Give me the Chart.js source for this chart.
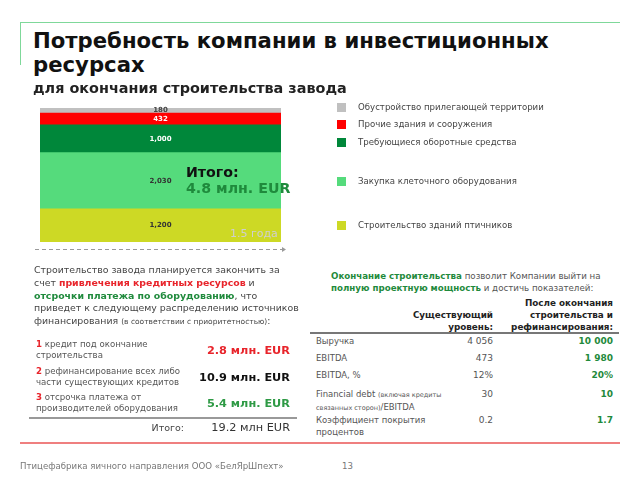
<!DOCTYPE html>
<html>
<head>
<meta charset="utf-8">
<script src="https://cdn.jsdelivr.net/npm/chart.js@4"></script>
<style>
  body { margin: 0; background: #fff; }
  #slide { position: relative; width: 640px; height: 480px; overflow: hidden; font-family: "DejaVu Sans", Verdana, sans-serif; color: #555; }
  #slide div { position: absolute; white-space: nowrap; }
  .red { color: #e8242b; font-weight: bold; }
  .grn { color: #1f8a3c; font-weight: bold; }
  canvas { position: absolute; left: 0; top: 95px; }
</style>
</head>
<body>
<div id="slide">
  <canvas id="investChart" width="320" height="170"></canvas>
</div>
<script>
// stacked bar, bottom to top
const categories = ['Итого'];
const seriesNames = [
  'Строительство зданий птичников',
  'Закупка клеточного оборудования',
  'Требующиеся оборотные средства',
  'Прочие здания и сооружения',
  'Обустройство прилегающей территории'
];
const seriesValues = [1200, 2030, 1000, 432, 180];
const valueLabels = ['1,200', '2,030', '1,000', '432', '180'];
const seriesColors = ['#cdd925', '#55db7c', '#00873a', '#ff0000', '#c0c0c0'];
const labelColors = ['#333', '#333', '#fff', '#fff', '#444'];

// financing sources
const sourceNums = ['1', '2', '3'];
const sourceNames = [
  ['кредит под окончание', 'строительства'],
  ['рефинансирование всех либо', 'части  существующих кредитов'],
  ['отсрочка платежа от', 'производителей оборудования']
];
const sourceAmounts = ['2.8 млн. EUR', '10.9 млн. EUR', '5.4 млн. EUR'];
const sourceTotal = '19.2 млн EUR';

// indicators
const indicatorNames = ['Выручка', 'EBITDA', 'EBITDA, %', 'Financial debt', 'Коэффициент покрытия'];
const currentLevel = ['4 056', '473', '12%', '30', '0.2'];
const afterLevel = ['10 000', '1 980', '20%', '10', '1.7'];

const slide = document.getElementById('slide');
function put(html, css) {
  const d = document.createElement('div');
  d.innerHTML = html;
  Object.assign(d.style, css);
  slide.appendChild(d);
  return d;
}
function line(x, y, w, h, color) {
  put('', { left: x + 'px', top: y + 'px', width: w + 'px', height: h + 'px', background: color });
}

// frame
line(20, 22, 600, 1, '#7fd89a');
line(20, 22, 1, 43, '#7fd89a');
line(20, 442, 600, 2, '#ef7f7f');

// title
put('Потребность компании в инвестиционных<br>ресурсах', { left: '33px', top: '29px', font: 'bold 21.2px/24px "DejaVu Sans"', color: '#111' });
put('для окончания строительства завода', { left: '33px', top: '79px', font: 'bold 14.4px/18px "DejaVu Sans"', color: '#222' });

// overlay text on chart
put('Итого:', { left: '186px', top: '163px', font: 'bold 14.2px/18px "DejaVu Sans"', color: '#111' });
put('4.8 млн. EUR', { left: '186px', top: '179px', font: 'bold 14.2px/18px "DejaVu Sans"', color: '#1f8a3c' });
put('1.5 года', { left: '230px', top: '227px', font: '11px/14px "DejaVu Sans"', color: '#cfcfcf' });

// legend
const legendY = [226, 182, 143, 125, 108];
seriesNames.forEach((n, i) => {
  line(337, legendY[i] - 5, 9, 9, seriesColors[i]);
  put(n, { left: '358px', top: (legendY[i] - 7) + 'px', font: '8.6px/13px "DejaVu Sans"', color: '#444' });
});

// left text
put('Строительство завода планируется закончить за<br>' +
    'счет <span class="red">привлечения кредитных ресурсов</span> и<br>' +
    '<span class="grn">отсрочки платежа по оборудованию</span>, что<br>' +
    'приведет к следующему распределению источников<br>' +
    'финансирования <span style="font-size:7.5px">(в соответствии с приоритетностью)</span>:',
    { left: '34px', top: '264px', font: '9.4px/12.8px "DejaVu Sans"', color: '#444' });

const srcY = [345, 372, 398];
const srcColors = ['#e8242b', '#111', '#2e9a45'];
sourceNames.forEach((n, i) => {
  put('<b style="color:#e8242b">' + sourceNums[i] + '</b> ' + n[0] + '<br>' + n[1],
      { left: '36px', top: (srcY[i] - 6) + 'px', font: '8.6px/10.5px "DejaVu Sans"', color: '#555' });
  put(sourceAmounts[i], { right: (640 - 290) + 'px', top: (srcY[i] - 2) + 'px', font: 'bold 11.3px/15px "DejaVu Sans"', color: srcColors[i] });
});
line(29, 417, 268, 2, '#999');
put('Итого:', { right: (640 - 184) + 'px', top: '421px', font: '9.5px/13px "DejaVu Sans"', color: '#444' });
put(sourceTotal, { right: (640 - 290) + 'px', top: '420px', font: '11.3px/15px "DejaVu Sans"', color: '#333' });

// right text
put('<span class="grn">Окончание строительства</span> позволит Компании выйти на<br>' +
    '<span class="grn">полную проектную мощность</span> и достичь показателей:',
    { left: '331px', top: '270px', font: '8.7px/12px "DejaVu Sans"', color: '#555' });
put('Существующий<br>уровень:', { right: (640 - 493) + 'px', top: '309px', font: 'bold 8.8px/12px "DejaVu Sans"', color: '#222', textAlign: 'right' });
put('После окончания<br>строительства и<br>рефинансирования:', { right: (640 - 613) + 'px', top: '297px', font: 'bold 8.8px/12px "DejaVu Sans"', color: '#222', textAlign: 'right' });
line(310, 332, 309, 2, '#777');

const indY = [341, 358, 375, 394, 420];
indicatorNames.forEach((n, i) => {
  let label = n;
  if (i === 3) label = 'Financial debt <span style="font-size:6.5px">(включая кредиты</span><br><span style="font-size:6.5px">связанных сторон)</span>/EBITDA';
  if (i === 4) label = 'Коэффициент покрытия<br>процентов';
  put(label, { left: '316px', top: (indY[i] - 6) + 'px', font: '8.5px/12px "DejaVu Sans"', color: '#555' });
  put(currentLevel[i], { right: (640 - 493) + 'px', top: (indY[i] - 6) + 'px', font: '9px/12px "DejaVu Sans"', color: '#555' });
  put(afterLevel[i], { right: (640 - 613) + 'px', top: (indY[i] - 6) + 'px', font: 'bold 9px/12px "DejaVu Sans"', color: '#1f8a3c' });
});

// footer
put('Птицефабрика яичного направления ООО «БелЯрШпехт»', { left: '20px', top: '460px', font: '8.6px/12px "DejaVu Sans"', color: '#777' });
put('13', { left: '342px', top: '460px', font: '8.6px/12px "DejaVu Sans"', color: '#777' });

// chart
const total = seriesValues.reduce((a, b) => a + b, 0);

const valueLabelPlugin = {
  id: 'valueLabels',
  afterDatasetsDraw(chart) {
    const c = chart.ctx;
    c.save();
    c.font = 'bold 7px "DejaVu Sans"';
    c.textAlign = 'center';
    c.textBaseline = 'middle';
    chart.data.datasets.forEach((ds, i) => {
      const bar = chart.getDatasetMeta(i).data[0];
      c.fillStyle = labelColors[i];
      c.fillText(valueLabels[i], bar.x, (bar.y + bar.base) / 2);
    });
    c.restore();
  }
};

const arrowPlugin = {
  id: 'timeArrow',
  afterDraw(chart) {
    const a = chart.chartArea;
    const c = chart.ctx;
    const y = a.bottom + 7.5;
    c.save();
    c.strokeStyle = '#9a9a9a';
    c.lineWidth = 1;
    c.setLineDash([4, 3]);
    c.beginPath();
    c.moveTo(a.left - 5, y);
    c.lineTo(a.right + 2, y);
    c.stroke();
    c.setLineDash([]);
    c.beginPath();
    c.moveTo(a.right + 5, y);
    c.lineTo(a.right + 1, y - 2.5);
    c.lineTo(a.right + 1, y + 2.5);
    c.closePath();
    c.fillStyle = '#9a9a9a';
    c.fill();
    c.restore();
  }
};

new Chart(document.getElementById('investChart'), {
  type: 'bar',
  data: {
    labels: categories,
    datasets: seriesNames.map((name, i) => ({
      label: name,
      data: [seriesValues[i]],
      backgroundColor: seriesColors[i],
      borderWidth: 0,
      barPercentage: 1,
      categoryPercentage: 1
    }))
  },
  options: {
    responsive: false,
    animation: false,
    layout: { padding: { left: 40, right: 39, top: 13, bottom: 23 } },
    plugins: { legend: { display: false }, tooltip: { enabled: false } },
    scales: {
      x: { display: false, stacked: true },
      y: { display: false, stacked: true, min: 0, max: total }
    }
  },
  plugins: [valueLabelPlugin, arrowPlugin]
});
</script>
</body>
</html>
